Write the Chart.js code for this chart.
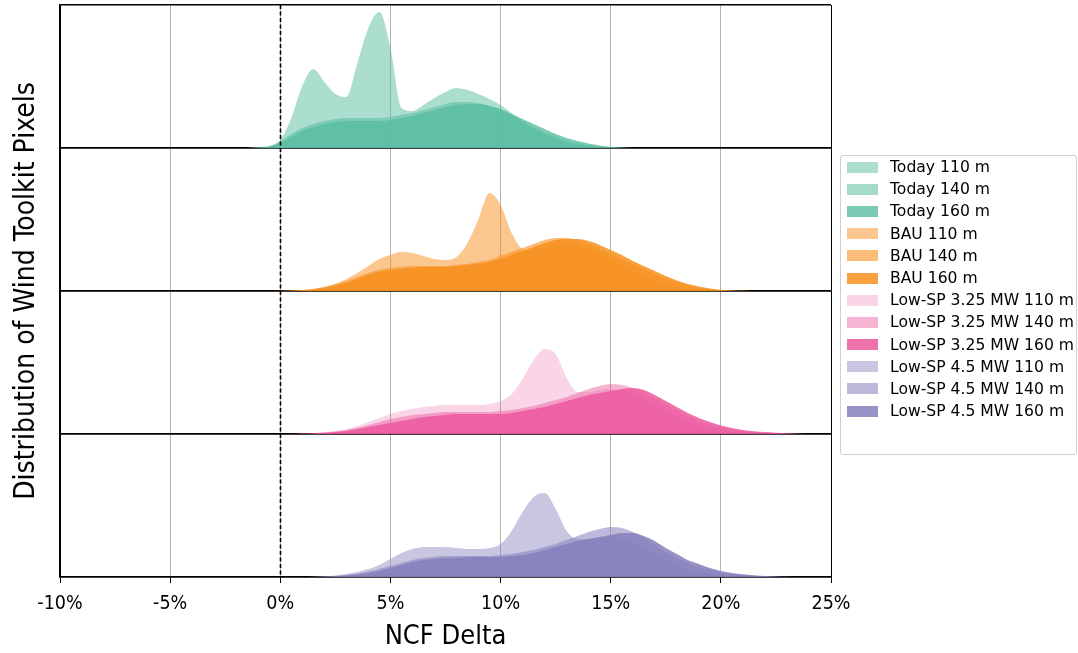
<!DOCTYPE html>
<html>
<head>
<meta charset="utf-8">
<script src="https://cdn.jsdelivr.net/npm/chart.js@4.4.1/dist/chart.umd.min.js"></script>
<style>
  html, body { margin: 0; padding: 0; background: #fff; }
  #wrap { position: relative; width: 1078px; height: 653px; }
  #legend {
    position: absolute; left: 840px; top: 155px; width: 237px; height: 300px;
    box-sizing: border-box; border: 1px solid #cfcfcf; border-radius: 3px;
    background: rgba(255,255,255,0.8);
    font-family: 'DejaVu Sans', sans-serif; font-size: 15.6px; color: #000;
  }
  .row { height: 22.2px; display: flex; align-items: center; white-space: nowrap; }
  .sw { flex: none; width: 31px; height: 11px; margin-left: 6px; margin-right: 12px; }
</style>
</head>
<body>
<div id="wrap">
  <canvas id="c" width="1078" height="653"></canvas>
  <div id="legend"></div>
</div>
<script>
// NCF delta grid (percent) shared by every density curve
const NCF_DELTA = [
  -1.5, -1, -0.5, 0, 0.5, 1, 1.5, 2, 2.5, 3,
  3.5, 4, 4.5, 5, 5.5, 6, 6.5, 7, 7.5, 8,
  8.5, 9, 9.5, 10, 10.5, 11, 11.5, 12, 12.5, 13,
  13.5, 14, 14.5, 15, 15.5, 16, 16.5, 17, 17.5, 18,
  18.5, 19, 19.5, 20, 20.5, 21, 21.5, 22, 22.5, 23,
  23.5, 24
];

// Relative density of Wind Toolkit pixels per scenario and hub height
const TODAY_110 = [
  0, 0, 1, 8, 30, 62, 79, 66, 54, 51,
  85, 120, 136, 100, 40, 37, 43, 50, 56, 60,
  58, 54, 49, 43, 35, 27, 20, 14, 9, 6,
  3.5, 2, 1, 0.5, 0, 0, 0, 0, 0, 0,
  0, 0, 0, 0, 0, 0, 0, 0, 0, 0,
  0, 0
];
const TODAY_140 = [
  0, 1, 2, 7, 14, 20, 24, 27, 29, 30,
  30, 30, 30, 31, 33, 35, 38, 41, 44, 46,
  46, 45, 42, 38, 32, 26, 20, 15, 11, 7,
  4.5, 3, 1.5, 0.8, 0.3, 0, 0, 0, 0, 0,
  0, 0, 0, 0, 0, 0, 0, 0, 0, 0,
  0, 0
];
const TODAY_160 = [
  0, 0.5, 1.5, 5, 11, 17, 21, 24, 26, 27,
  27, 27, 27, 28, 30, 32, 35, 38, 41, 43,
  44, 44, 42, 39, 34, 29, 24, 19, 14, 10,
  7, 4.5, 2.5, 1.2, 0.5, 0, 0, 0, 0, 0,
  0, 0, 0, 0, 0, 0, 0, 0, 0, 0,
  0, 0
];
const BAU_110 = [
  0, 0, 0, 0, 0.3, 1, 2, 4, 7, 12,
  18, 25, 32, 36, 39, 38, 35, 32, 31, 34,
  48, 72, 98, 86, 58, 42, 40, 43, 46, 47,
  45, 41, 36, 30, 24, 19, 14, 10, 6.5, 4,
  2.2, 1.2, 0.6, 0.2, 0, 0, 0, 0, 0, 0,
  0, 0
];
const BAU_140 = [
  0, 0, 0, 0.2, 0.5, 1, 2, 4, 7, 10,
  14, 18, 21, 23, 24, 25, 25, 25, 25, 26,
  27, 29, 31, 35, 39, 43, 47, 51, 53, 53,
  51, 47, 42, 37, 32, 27, 22, 17, 12.5, 8.5,
  5.5, 3.5, 2, 1, 0.5, 0.2, 0, 0, 0, 0,
  0, 0
];
const BAU_160 = [
  0, 0, 0, 0.1, 0.3, 0.8, 1.5, 3, 5, 8,
  12, 16, 19, 21, 22, 23, 24, 24, 24, 25,
  26, 27, 29, 32, 36, 40, 44, 48, 51, 52,
  52, 50, 46, 41, 36, 30, 25, 20, 15, 10.5,
  7, 4.5, 2.5, 1.3, 0.6, 0.2, 0, 0, 0, 0,
  0, 0
];
const LOWSP325_110 = [
  0, 0, 0, 0, 0.2, 0.5, 1, 2, 3, 5,
  8, 12, 16, 20, 23, 25, 27, 28, 29, 29,
  29, 29, 30, 33, 40, 55, 74, 85, 80, 56,
  42, 42, 44, 45, 43, 39, 34, 28, 22, 17,
  12, 8, 5.5, 3.5, 2, 1, 0.5, 0.2, 0, 0,
  0, 0
];
const LOWSP325_140 = [
  0, 0, 0, 0, 0.1, 0.4, 0.8, 1.5, 2.5, 4,
  6, 9, 12, 15, 17, 19, 20, 21, 22, 22,
  22, 22, 22, 23, 24, 26, 28, 31, 34, 37,
  41, 45, 48, 50, 49, 46, 41, 35, 29, 23,
  17, 13, 9, 6.5, 4.5, 3, 2, 1.3, 0.8, 0.4,
  0.2, 0
];
const LOWSP325_160 = [
  0, 0, 0, 0, 0, 0.3, 0.6, 1.2, 2, 3,
  5, 7, 9, 11, 13, 15, 17, 18, 19, 20,
  20, 20, 20, 20, 21, 23, 25, 27, 30, 33,
  36, 39, 41, 43, 45, 46, 44, 39, 33, 27,
  21, 16, 12, 8.5, 6, 4, 2.8, 2, 1.3, 0.8,
  0.3, 0
];
const LOWSP45_110 = [
  0, 0, 0, 0, 0, 0, 0.3, 0.8, 1.5, 3,
  5, 8, 12, 18, 24, 28, 30, 30, 30, 29,
  28, 28, 29, 33, 46, 65, 80, 84, 68, 46,
  38, 38, 39, 40, 38, 34, 29, 23, 17, 12,
  8, 5, 3, 1.8, 1, 0.5, 0.2, 0, 0, 0,
  0, 0
];
const LOWSP45_140 = [
  0, 0, 0, 0, 0, 0, 0.2, 0.5, 1, 2,
  3.5, 5.5, 8, 11, 14, 17, 19, 20, 21, 21,
  21, 21, 21, 22, 23, 25, 27, 30, 33, 37,
  41, 45, 48, 50, 49, 45, 39, 32, 25, 19,
  14, 10, 7, 4.5, 3, 2, 1.2, 0.7, 0.3, 0,
  0, 0
];
const LOWSP45_160 = [
  0, 0, 0, 0, 0, 0, 0.1, 0.3, 0.8, 1.5,
  2.5, 4, 6, 9, 12, 15, 17, 18, 19, 19,
  20, 20, 20, 20, 21, 22, 24, 27, 30, 33,
  36, 38, 40, 42, 44, 44, 41, 36, 29, 23,
  17, 13, 9, 6, 4, 2.8, 1.8, 1, 0.5, 0.2,
  0, 0
];

const SCENARIOS = ['Today', 'BAU', 'Low-SP 3.25 MW', 'Low-SP 4.5 MW'];
const HUB_HEIGHTS = ['110 m', '140 m', '160 m'];
const X_TICKS = [-10, -5, 0, 5, 10, 15, 20, 25];
const X_TICK_LABELS = ['-10%', '-5%', '0%', '5%', '10%', '15%', '20%', '25%'];
const X_TITLE = 'NCF Delta';
const Y_TITLE = 'Distribution of Wind Toolkit Pixels';
const DENSITY_MAX = 143;
const ZERO_LINE_AT = 0;

// Styling
const SCENARIO_RGB = [[90, 190, 161], [247, 144, 30], [236, 88, 158], [134, 128, 188]];
const HUB_ALPHA = [[0.5, 0.55, 0.8], [0.5, 0.6, 0.85], [0.25, 0.45, 0.85], [0.45, 0.55, 0.85]];
const COND_FONT = "'DejaVu Sans Condensed', 'Liberation Sans Narrow', 'DejaVu Sans', sans-serif";

const seriesByScenario = [
  [TODAY_110, TODAY_140, TODAY_160],
  [BAU_110, BAU_140, BAU_160],
  [LOWSP325_110, LOWSP325_140, LOWSP325_160],
  [LOWSP45_110, LOWSP45_140, LOWSP45_160]
];
const panelAxisIds = ['yToday', 'yBAU', 'yLow325', 'yLow45'];
const rgba = (c, a) => `rgba(${c[0]},${c[1]},${c[2]},${a})`;

const datasets = [];
SCENARIOS.forEach((scen, si) => {
  HUB_HEIGHTS.forEach((hub, hi) => {
    const vals = seriesByScenario[si][hi];
    datasets.push({
      label: scen + ' ' + hub,
      data: NCF_DELTA.map((x, i) => ({ x: x, y: vals[i] })),
      yAxisID: panelAxisIds[si],
      fill: 'origin',
      backgroundColor: rgba(SCENARIO_RGB[si], HUB_ALPHA[si][hi]),
      borderColor: 'rgba(0,0,0,0)',
      borderWidth: 0,
      pointRadius: 0,
      pointHoverRadius: 0,
      cubicInterpolationMode: 'monotone'
    });
  });
});

// One stacked y axis per scenario panel; its two grid lines frame the panel
function panelAxis(weight) {
  return {
    type: 'linear', position: 'left', stack: 'panels', stackWeight: 1, weight: weight,
    min: 0, max: DENSITY_MAX,
    afterBuildTicks: s => { s.ticks = [{ value: 0 }, { value: DENSITY_MAX }]; },
    afterFit: s => { s.width = 0; },
    ticks: { display: false },
    grid: { color: '#000', lineWidth: 1.4, drawTicks: false, tickLength: 0 },
    border: { color: '#000', width: 1.4 }
  };
}

const zeroLine = {
  id: 'zeroLine',
  afterDatasetsDraw(chart) {
    const { ctx, chartArea, scales } = chart;
    const px = Math.round(scales.x.getPixelForValue(ZERO_LINE_AT)) + 0.5;
    ctx.save();
    ctx.strokeStyle = '#000';
    ctx.lineWidth = 1.6;
    ctx.setLineDash([4, 2.5]);
    ctx.beginPath();
    ctx.moveTo(px, chartArea.top);
    ctx.lineTo(px, chartArea.bottom);
    ctx.stroke();
    ctx.restore();
  }
};

new Chart(document.getElementById('c'), {
  type: 'line',
  data: { datasets: datasets },
  plugins: [zeroLine],
  options: {
    responsive: false,
    animation: false,
    devicePixelRatio: 1,
    layout: { padding: { left: 6, right: 247, top: 5, bottom: 0 } },
    plugins: { legend: { display: false }, tooltip: { enabled: false } },
    scales: {
      x: {
        type: 'linear', position: 'bottom', min: X_TICKS[0], max: X_TICKS[X_TICKS.length - 1],
        afterBuildTicks: s => { s.ticks = X_TICKS.map(v => ({ value: v })); },
        afterFit: s => { s.height = 76; },
        ticks: {
          callback: (v, i) => X_TICK_LABELS[i],
          color: '#000', font: { family: COND_FONT, size: 19.5 }, padding: 9,
          maxRotation: 0, autoSkip: false
        },
        grid: {
          color: c => (c.tick && (c.tick.value === X_TICKS[0] || c.tick.value === X_TICKS[X_TICKS.length - 1])) ? '#000' : '#b3b3b3',
          lineWidth: 1, tickColor: '#000', tickLength: 6, drawTicks: true
        },
        border: { color: '#000', width: 1.4 },
        title: { display: true, text: X_TITLE, color: '#000', font: { family: COND_FONT, size: 27 }, padding: { top: 0, bottom: 0 } }
      },
      yTitle: {
        type: 'linear', position: 'left', weight: 10,
        afterFit: s => { s.width = 54; },
        ticks: { display: false },
        grid: { display: false, drawTicks: false },
        border: { display: false },
        title: { display: true, text: Y_TITLE, color: '#000', font: { family: COND_FONT, size: 28 }, padding: { top: 4, bottom: 4 } }
      },
      yToday: panelAxis(4),
      yBAU: panelAxis(3),
      yLow325: panelAxis(2),
      yLow45: panelAxis(1)
    }
  }
});

// Legend listing every scenario / hub height pair
const legendEl = document.getElementById('legend');
datasets.forEach(ds => {
  const row = document.createElement('div');
  row.className = 'row';
  const sw = document.createElement('span');
  sw.className = 'sw';
  sw.style.background = ds.backgroundColor;
  const txt = document.createElement('span');
  txt.textContent = ds.label;
  row.appendChild(sw);
  row.appendChild(txt);
  legendEl.appendChild(row);
});
</script>
</body>
</html>
